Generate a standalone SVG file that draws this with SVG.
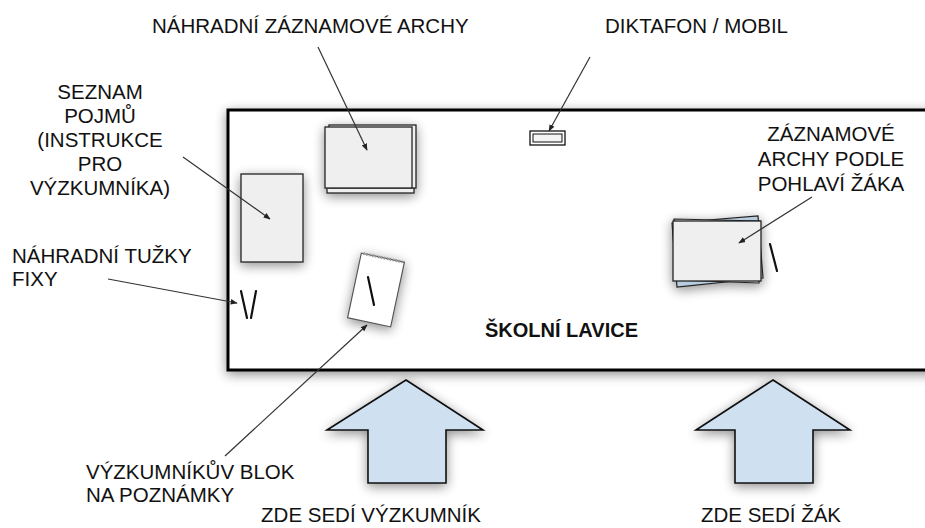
<svg xmlns="http://www.w3.org/2000/svg" width="925" height="528" viewBox="0 0 925 528">
<style>
.t{font-family:"Liberation Sans",Arial,sans-serif;font-size:20.5px;fill:#111}
.c{text-anchor:middle}
.b{font-weight:bold;font-size:20px}
.ln{stroke:#333;stroke-width:1.2;fill:none;marker-end:url(#ah)}
.sheet{fill:#efefef;stroke:#222;stroke-width:1.3}
.arr{fill:#cfe0f1;stroke:#111;stroke-width:1.6;stroke-linejoin:miter}
.pen{stroke:#111;stroke-width:2.2;stroke-linecap:round}
</style>
<defs>
<filter id="sh" x="-30%" y="-30%" width="160%" height="160%">
<feGaussianBlur in="SourceAlpha" stdDeviation="6"/>
<feOffset dx="0" dy="3" result="o"/>
<feComponentTransfer><feFuncA type="linear" slope="0.45"/></feComponentTransfer>
<feMerge><feMergeNode/><feMergeNode in="SourceGraphic"/></feMerge>
</filter>
<marker id="ah" viewBox="0 0 10 10" refX="9" refY="5" markerWidth="7" markerHeight="7" orient="auto" markerUnits="userSpaceOnUse">
<path d="M0,1 L10,5 L0,9 Z" fill="#222"/>
</marker>
</defs>
<rect width="925" height="528" fill="#fff"/>

<g id="desk">
<rect x="228" y="110" width="730" height="260" fill="#fff" stroke="#000" stroke-width="3" filter="url(#sh)"/>
<text class="t b" x="485" y="337">ŠKOLNÍ LAVICE</text>
</g>

<g id="seznam">
<rect class="sheet" x="241" y="174" width="62" height="88" filter="url(#sh)"/>
</g>

<g id="nahradni-archy" filter="url(#sh)">
<rect class="sheet" x="327" y="130" width="87" height="63" fill="#fafafa"/>
<rect class="sheet" x="329" y="125" width="87" height="63" fill="#fafafa"/>
<rect class="sheet" x="325" y="127" width="87" height="61"/>
</g>

<g id="diktafon">
<rect x="530" y="131" width="35" height="14" fill="#fff" stroke="#111" stroke-width="1.3"/>
<rect x="533" y="134" width="29" height="8" fill="#f4f4f4" stroke="#111" stroke-width="1"/>
</g>

<g id="tuzky">
<line class="pen" x1="241" y1="291" x2="247" y2="318"/>
<line class="pen" x1="256" y1="291" x2="251" y2="318"/>
</g>

<g id="blok" filter="url(#sh)">
<g transform="translate(376,290) rotate(12)">
<rect x="-22" y="-33" width="44" height="66" fill="#fff" stroke="#555" stroke-width="1.2"/>
<line x1="-20" y1="-33" x2="20" y2="-33" stroke="#999" stroke-width="3" stroke-dasharray="1.5 1.5"/>
</g>
<line class="pen" x1="368" y1="277" x2="374" y2="305" stroke-width="2.5"/>
</g>

<g id="archy-pohlavi" filter="url(#sh)">
<polygon points="672,223 758,216 763,278 677,287" fill="#b8cce0" stroke="#222" stroke-width="1.2"/>
<polygon points="674,219 760,221 759,283 675,280" fill="#e6eef6" stroke="#222" stroke-width="1.2"/>
<rect class="sheet" x="673" y="221" width="88" height="60"/>
</g>
<line class="pen" x1="770" y1="244" x2="777" y2="271"/>

<g id="sipka-vyzkumnik">
<path class="arr" d="M406,380 L483,430 L446,430 L446,483 L368,483 L368,430 L327,430 Z" filter="url(#sh)"/>
<text class="t c" x="371" y="522">ZDE SEDÍ VÝZKUMNÍK</text>
</g>

<g id="sipka-zak">
<path class="arr" d="M773,380 L850,430 L813,430 L813,483 L735,483 L735,430 L696,430 Z" filter="url(#sh)"/>
<text class="t c" x="771" y="522">ZDE SEDÍ ŽÁK</text>
</g>

<g id="labels">
<text class="t" x="152" y="33">NÁHRADNÍ ZÁZNAMOVÉ ARCHY</text>
<text class="t" x="605" y="33">DIKTAFON / MOBIL</text>
<text class="t c" x="100" y="99">SEZNAM</text>
<text class="t c" x="100" y="123">POJMŮ</text>
<text class="t c" x="100" y="147">(INSTRUKCE</text>
<text class="t c" x="100" y="171">PRO</text>
<text class="t c" x="100" y="195">VÝZKUMNÍKA)</text>
<text class="t" x="12" y="263">NÁHRADNÍ TUŽKY</text>
<text class="t" x="12" y="286">FIXY</text>
<text class="t" x="86" y="479">VÝZKUMNÍKŮV BLOK</text>
<text class="t" x="86" y="502">NA POZNÁMKY</text>
<text class="t c" x="831" y="141">ZÁZNAMOVÉ</text>
<text class="t c" x="831" y="166">ARCHY PODLE</text>
<text class="t c" x="831" y="191">POHLAVÍ ŽÁKA</text>
</g>

<g id="connectors">
<line class="ln" x1="318" y1="47" x2="367" y2="150"/>
<line class="ln" x1="590" y1="57" x2="549" y2="131"/>
<line class="ln" x1="183" y1="157" x2="270" y2="219"/>
<line class="ln" x1="108" y1="279" x2="237" y2="303"/>
<line class="ln" x1="225" y1="456" x2="367" y2="325"/>
<line class="ln" x1="812" y1="197" x2="739" y2="243"/>
</g>
</svg>
